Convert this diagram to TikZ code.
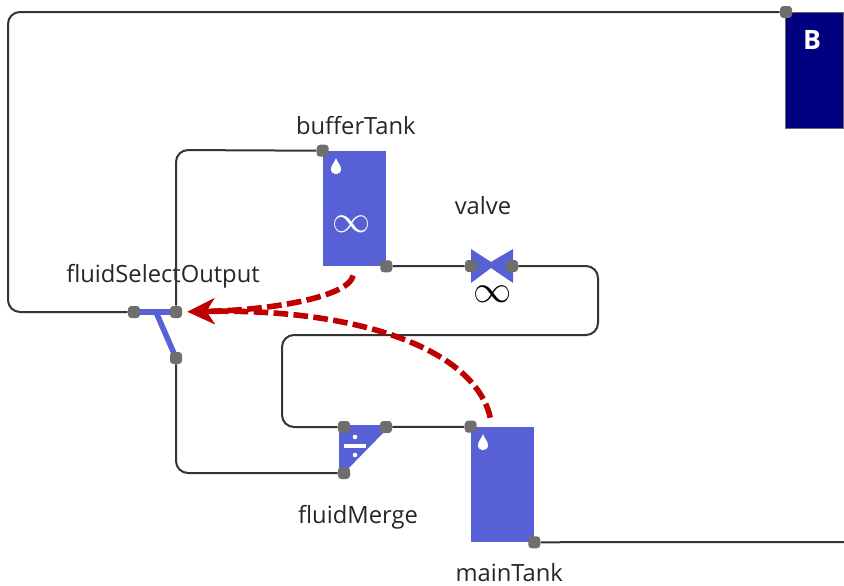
\documentclass[tikz,border=0pt]{standalone}
\usepackage{fontspec}
\setmainfont{Open Sans}
\usepackage{tikz}
\usetikzlibrary{arrows.meta, positioning, shapes.geometric}
\definecolor{fluidblue}{HTML}{5760D4}
\definecolor{navyblock}{HTML}{000080}
\definecolor{portgray}{HTML}{6E6E6E}
\definecolor{linkgray}{HTML}{333333}
\definecolor{flowred}{HTML}{C00000}
\tikzset{
    tank/.style={rectangle, fill=fluidblue, minimum width=47.25pt, minimum height=86.25pt, inner sep=0pt},
    port/.style={rectangle, rounded corners=2.5pt, fill=portgray, minimum size=9pt, inner sep=0pt},
    link/.style={draw=linkgray, line width=1.5pt, rounded corners=9pt},
    flow/.style={draw=flowred, line width=4.2pt, dash pattern=on 11pt off 4pt, -{Stealth[length=20pt,width=19pt,inset=6pt,sep=0pt]}, shorten >=4pt, shorten <=7pt},
    caption/.style={font=\fontsize{17.8}{20}\selectfont, inner sep=0pt, text=black!85},
    glyph/.style={inner sep=0pt, scale=1.15, font=\fontsize{24.88}{26}\selectfont}
}
\begin{document}
\begin{tikzpicture}[x=0.75pt, y=-0.75pt]
        \useasboundingbox (0,0) rectangle (844,586);
        \node[tank] (bufferTank) at (354.5,208.5) {};
        \node[tank] (mainTank) at (502.5,484.5) {};
        \node[rectangle, fill=navyblock, draw=black!60, line width=0.75pt, minimum width=44pt, minimum height=87pt, inner sep=0pt] (blockB) at (814.5,70) {};
        \node[inner sep=0pt, text=white, font=\fontsize{20}{22}\bfseries\selectfont] (blockLabel) at (812,40) {B};

        \fill[fluidblue] (471,249) -- (491,262) -- (513,249) -- (513,283) -- (491,268) -- (471,283) -- cycle;
        \fill[fluidblue] (339,425) -- (386,425) -- (386,430) -- (344,473) -- (339,473) -- cycle;
        \fill[white] (344,444) rectangle (366,447.5);
        \fill[white] (355,437) circle (2.3);
        \fill[white] (355,455) circle (2.3);
        \draw[fluidblue, line width=4.2pt] (134,312) -- (176,312);
        \draw[fluidblue, line width=4.2pt] (156,312) -- (176,358);
        \fill[white] (336,158) .. controls (337,162) and (341,165) .. (341,169) .. controls (341,176) and (331,176) .. (331,169) .. controls (331,165) and (335,162) .. (336,158) -- cycle;
        \fill[white] (483,434) .. controls (484,438) and (488,441) .. (488,445) .. controls (488,452) and (478,452) .. (478,445) .. controls (478,441) and (482,438) .. (483,434) -- cycle;

        \node[glyph, text=white] (bufferSign) at (352,224) {$\infty$};
        \node[glyph] (valveSign) at (493,294) {$\infty$};

        \node[port] (bufferIn) at (bufferTank.north west) {};
        \node[port] (bufferOut) at (bufferTank.south east) {};
        \node[port] (mainIn) at (mainTank.north west) {};
        \node[port] (mainOut) at (mainTank.south east) {};
        \node[port] (blockIn) at (786,12) {};
        \node[port] (valveIn) at (471,266) {};
        \node[port] (valveOut) at (512,266) {};
        \node[port] (mergeTop) at (344,427) {};
        \node[port] (mergeBottom) at (344,473) {};
        \node[port] (mergeOut) at (386,427) {};
        \node[port] (selectIn) at (134,312) {};
        \node[port] (selectTop) at (176,312) {};
        \node[port] (selectBottom) at (176,358) {};
        \coordinate (mainEnd) at (844,542);

        \node[caption] (bufferText) [above=12pt of bufferTank, xshift=1pt] {bufferTank};
        \node[caption] (valveText) at (483,206) {valve};
        \node[caption] (selectText) at (163,276) {fluidSelectOutput};
        \node[caption] (mergeText) at (358,517) {fluidMerge};
        \node[caption] (mainText) [below=16pt of mainTank, xshift=5pt] {mainTank};

        \path[link]
        (blockIn) -- (8,12) -- (8,312) -- (selectIn)
        (bufferIn) -- (176,150) -- (selectTop)
        (bufferOut) -- (valveIn)
        (valveOut) -- (598,266) -- (598,335) -- (282,335) -- (282,427) -- (mergeTop)
        (mergeOut) -- (mainIn)
        (mainOut) -- (mainEnd)
        (selectBottom) -- (176,473) -- (mergeBottom)
        ;
        \path[flow] (bufferTank.south) .. controls (350,295) and (280,310) .. (selectTop);
        \path[flow] (mainTank.100) .. controls (475,350) and (360,308) .. (selectTop);
    \end{tikzpicture}
\end{document}
